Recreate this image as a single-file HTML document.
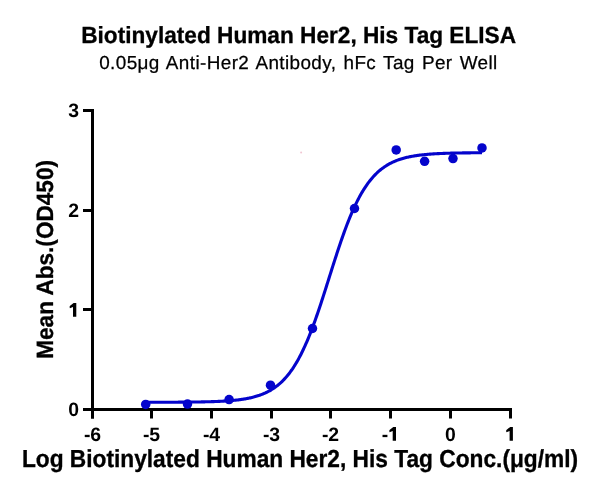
<!DOCTYPE html>
<html><head><meta charset="utf-8"><style>
html,body{margin:0;padding:0;background:#fff;width:600px;height:495px;overflow:hidden;}
svg{display:block;will-change:transform;}
text{font-family:"Liberation Sans",sans-serif;fill:#000;text-rendering:geometricPrecision;}
</style></head><body>
<svg width="600" height="495" viewBox="0 0 600 495">
<rect width="600" height="495" fill="#fff"/>
<text transform="translate(298.6,42.9) scale(1,1.03)" text-anchor="middle" font-size="22.65" font-weight="bold" letter-spacing="0" word-spacing="0" stroke="#000" stroke-width="0.3">Biotinylated Human Her2, His Tag ELISA</text>
<text transform="translate(298.4,69.2) scale(1,1.0)" text-anchor="middle" font-size="18.9" font-weight="normal" letter-spacing="0.4" word-spacing="1.53" stroke="#000" stroke-width="0.25">0.05μg Anti-Her2 Antibody, hFc Tag Per Well</text>
<text transform="translate(53.1,259.4) rotate(-90) scale(1,1.04)" text-anchor="middle" font-size="22.6" font-weight="bold" letter-spacing="0" word-spacing="0" stroke="#000" stroke-width="0.3">Mean Abs.(OD450)</text>
<text transform="translate(300.0,466.5) scale(1,1.08)" text-anchor="middle" font-size="22.73" font-weight="bold" letter-spacing="0" word-spacing="0" stroke="#000" stroke-width="0.3">Log Biotinylated Human Her2, His Tag Conc.(μg/ml)</text>
<g stroke="#000" stroke-width="3" fill="none">
<path d="M92.5 109V418.5"/>
<path d="M91 409.5H512"/>
<path d="M83 110.5H92.5"/><path d="M83 210.5H92.5"/><path d="M83 309.5H92.5"/><path d="M83 409.5H92.5"/><path d="M92.5 409.5V418.5"/><path d="M151.5 409.5V418.5"/><path d="M211.5 409.5V418.5"/><path d="M271.5 409.5V418.5"/><path d="M330.5 409.5V418.5"/><path d="M390.5 409.5V418.5"/><path d="M450.5 409.5V418.5"/><path d="M510.5 409.5V418.5"/>
</g>
<g font-size="19.4" font-weight="bold"><text x="79" y="116.8" text-anchor="end">3</text><text x="79" y="216.8" text-anchor="end">2</text><text x="79" y="415.8" text-anchor="end">0</text><path d="M73.00 316.70H76.30V302.90H73.60L70.10 305.70Q69.10 306.60 69.90 308.20L73.00 307.10Z"/><text x="92.5" y="440.6" text-anchor="middle">-6</text><text x="151.5" y="440.6" text-anchor="middle">-5</text><text x="211.5" y="440.6" text-anchor="middle">-4</text><text x="271.5" y="440.6" text-anchor="middle">-3</text><text x="330.5" y="440.6" text-anchor="middle">-2</text><text x="450.5" y="440.6" text-anchor="middle">0</text><path d="M509.60 440.70H512.90V426.90H510.20L506.70 429.70Q505.70 430.60 506.50 432.20L509.60 431.10Z"/><path d="M392.70 440.70H396.00V426.90H393.30L389.80 429.70Q388.80 430.60 389.60 432.20L392.70 431.10Z"/><text x="388.3" y="440.6" text-anchor="end">-</text></g>
<path d="M145.70,402.27 L146.54,402.27 L147.39,402.27 L148.23,402.26 L149.07,402.26 L149.91,402.26 L150.76,402.26 L151.60,402.26 L152.44,402.26 L153.29,402.26 L154.13,402.26 L154.97,402.25 L155.81,402.25 L156.66,402.25 L157.50,402.25 L158.34,402.25 L159.19,402.25 L160.03,402.24 L160.87,402.24 L161.71,402.24 L162.56,402.24 L163.40,402.23 L164.24,402.23 L165.09,402.23 L165.93,402.23 L166.77,402.22 L167.61,402.22 L168.46,402.22 L169.30,402.22 L170.14,402.21 L170.99,402.21 L171.83,402.21 L172.67,402.20 L173.51,402.20 L174.36,402.19 L175.20,402.19 L176.04,402.19 L176.89,402.18 L177.73,402.18 L178.57,402.17 L179.41,402.17 L180.26,402.16 L181.10,402.15 L181.94,402.15 L182.79,402.14 L183.63,402.14 L184.47,402.13 L185.31,402.12 L186.16,402.12 L187.00,402.11 L187.84,402.10 L188.69,402.09 L189.53,402.08 L190.37,402.07 L191.21,402.06 L192.06,402.05 L192.90,402.04 L193.74,402.03 L194.59,402.02 L195.43,402.01 L196.27,402.00 L197.11,401.99 L197.96,401.97 L198.80,401.96 L199.64,401.94 L200.49,401.93 L201.33,401.91 L202.17,401.90 L203.01,401.88 L203.86,401.86 L204.70,401.84 L205.54,401.82 L206.39,401.80 L207.23,401.78 L208.07,401.76 L208.91,401.74 L209.76,401.71 L210.60,401.69 L211.44,401.66 L212.29,401.63 L213.13,401.61 L213.97,401.58 L214.81,401.54 L215.66,401.51 L216.50,401.48 L217.34,401.44 L218.19,401.41 L219.03,401.37 L219.87,401.33 L220.71,401.29 L221.56,401.24 L222.40,401.20 L223.24,401.15 L224.09,401.10 L224.93,401.05 L225.77,400.99 L226.61,400.94 L227.46,400.88 L228.30,400.82 L229.14,400.75 L229.99,400.69 L230.83,400.62 L231.67,400.54 L232.51,400.47 L233.36,400.39 L234.20,400.31 L235.04,400.22 L235.89,400.13 L236.73,400.04 L237.57,399.94 L238.41,399.84 L239.26,399.73 L240.10,399.62 L240.94,399.50 L241.79,399.38 L242.63,399.26 L243.47,399.13 L244.31,398.99 L245.16,398.85 L246.00,398.70 L246.84,398.54 L247.69,398.38 L248.53,398.22 L249.37,398.04 L250.21,397.86 L251.06,397.67 L251.90,397.47 L252.74,397.26 L253.59,397.05 L254.43,396.82 L255.27,396.59 L256.11,396.35 L256.96,396.09 L257.80,395.83 L258.64,395.55 L259.49,395.27 L260.33,394.97 L261.17,394.66 L262.01,394.34 L262.86,394.00 L263.70,393.65 L264.54,393.29 L265.39,392.91 L266.23,392.51 L267.07,392.10 L267.91,391.68 L268.76,391.23 L269.60,390.77 L270.44,390.29 L271.29,389.79 L272.13,389.27 L272.97,388.74 L273.81,388.18 L274.66,387.60 L275.50,386.99 L276.34,386.37 L277.19,385.72 L278.03,385.04 L278.87,384.34 L279.71,383.61 L280.56,382.86 L281.40,382.08 L282.24,381.27 L283.09,380.43 L283.93,379.56 L284.77,378.66 L285.61,377.73 L286.46,376.77 L287.30,375.77 L288.14,374.74 L288.99,373.67 L289.83,372.57 L290.67,371.43 L291.51,370.25 L292.36,369.04 L293.20,367.78 L294.04,366.49 L294.89,365.16 L295.73,363.79 L296.57,362.37 L297.41,360.91 L298.26,359.42 L299.10,357.87 L299.94,356.29 L300.79,354.66 L301.63,352.99 L302.47,351.27 L303.31,349.51 L304.16,347.71 L305.00,345.86 L305.84,343.97 L306.69,342.04 L307.53,340.06 L308.37,338.04 L309.21,335.97 L310.06,333.87 L310.90,331.72 L311.74,329.53 L312.59,327.31 L313.43,325.04 L314.27,322.74 L315.11,320.40 L315.96,318.03 L316.80,315.62 L317.64,313.19 L318.49,310.72 L319.33,308.22 L320.17,305.70 L321.01,303.15 L321.86,300.59 L322.70,298.00 L323.54,295.39 L324.39,292.76 L325.23,290.12 L326.07,287.48 L326.91,284.82 L327.76,282.15 L328.60,279.48 L329.44,276.81 L330.29,274.14 L331.13,271.47 L331.97,268.81 L332.81,266.15 L333.66,263.51 L334.50,260.88 L335.34,258.26 L336.19,255.66 L337.03,253.08 L337.87,250.52 L338.71,247.99 L339.56,245.48 L340.40,243.00 L341.24,240.54 L342.09,238.12 L342.93,235.73 L343.77,233.38 L344.61,231.06 L345.46,228.77 L346.30,226.53 L347.14,224.32 L347.99,222.15 L348.83,220.02 L349.67,217.94 L350.51,215.90 L351.36,213.90 L352.20,211.94 L353.04,210.02 L353.89,208.15 L354.73,206.33 L355.57,204.55 L356.41,202.81 L357.26,201.11 L358.10,199.46 L358.94,197.86 L359.79,196.29 L360.63,194.77 L361.47,193.30 L362.31,191.86 L363.16,190.46 L364.00,189.11 L364.84,187.80 L365.69,186.52 L366.53,185.29 L367.37,184.09 L368.21,182.94 L369.06,181.82 L369.90,180.73 L370.74,179.68 L371.59,178.67 L372.43,177.68 L373.27,176.74 L374.11,175.82 L374.96,174.94 L375.80,174.08 L376.64,173.26 L377.49,172.46 L378.33,171.69 L379.17,170.95 L380.01,170.24 L380.86,169.55 L381.70,168.89 L382.54,168.25 L383.39,167.64 L384.23,167.04 L385.07,166.47 L385.91,165.93 L386.76,165.40 L387.60,164.89 L388.44,164.40 L389.29,163.93 L390.13,163.48 L390.97,163.04 L391.81,162.62 L392.66,162.22 L393.50,161.83 L394.34,161.46 L395.19,161.10 L396.03,160.76 L396.87,160.43 L397.71,160.11 L398.56,159.81 L399.40,159.52 L400.24,159.24 L401.09,158.97 L401.93,158.71 L402.77,158.46 L403.61,158.22 L404.46,157.99 L405.30,157.77 L406.14,157.56 L406.99,157.36 L407.83,157.17 L408.67,156.98 L409.51,156.80 L410.36,156.63 L411.20,156.46 L412.04,156.31 L412.89,156.15 L413.73,156.01 L414.57,155.87 L415.41,155.74 L416.26,155.61 L417.10,155.48 L417.94,155.37 L418.79,155.25 L419.63,155.14 L420.47,155.04 L421.31,154.94 L422.16,154.85 L423.00,154.75 L423.84,154.67 L424.69,154.58 L425.53,154.50 L426.37,154.42 L427.21,154.35 L428.06,154.28 L428.90,154.21 L429.74,154.14 L430.59,154.08 L431.43,154.02 L432.27,153.96 L433.11,153.91 L433.96,153.85 L434.80,153.80 L435.64,153.76 L436.49,153.71 L437.33,153.66 L438.17,153.62 L439.01,153.58 L439.86,153.54 L440.70,153.50 L441.54,153.47 L442.39,153.43 L443.23,153.40 L444.07,153.37 L444.91,153.34 L445.76,153.31 L446.60,153.28 L447.44,153.25 L448.29,153.23 L449.13,153.20 L449.97,153.18 L450.81,153.16 L451.66,153.13 L452.50,153.11 L453.34,153.09 L454.19,153.07 L455.03,153.06 L455.87,153.04 L456.71,153.02 L457.56,153.01 L458.40,152.99 L459.24,152.98 L460.09,152.96 L460.93,152.95 L461.77,152.94 L462.61,152.92 L463.46,152.91 L464.30,152.90 L465.14,152.89 L465.99,152.88 L466.83,152.87 L467.67,152.86 L468.51,152.85 L469.36,152.84 L470.20,152.83 L471.04,152.82 L471.89,152.82 L472.73,152.81 L473.57,152.80 L474.41,152.79 L475.26,152.79 L476.10,152.78 L476.94,152.78 L477.79,152.77 L478.63,152.76 L479.47,152.76 L480.31,152.75 L481.16,152.75 L482.00,152.74" stroke="#0404cc" stroke-width="3.1" fill="none" stroke-linejoin="round"/>
<g fill="#0404cc"><circle cx="145.7" cy="404.4" r="4.75"/><circle cx="187.5" cy="404.1" r="4.75"/><circle cx="229.1" cy="399.6" r="4.75"/><circle cx="270.5" cy="385.2" r="4.75"/><circle cx="312.5" cy="328.5" r="4.75"/><circle cx="354.5" cy="208.5" r="4.75"/><circle cx="396.2" cy="149.9" r="4.75"/><circle cx="424.6" cy="161.3" r="4.75"/><circle cx="453" cy="158.6" r="4.75"/><circle cx="482" cy="147.9" r="4.75"/></g>
<circle cx="301.1" cy="152.6" r="1" fill="#e8a0b4" opacity="0.6"/>
</svg>
</body></html>
